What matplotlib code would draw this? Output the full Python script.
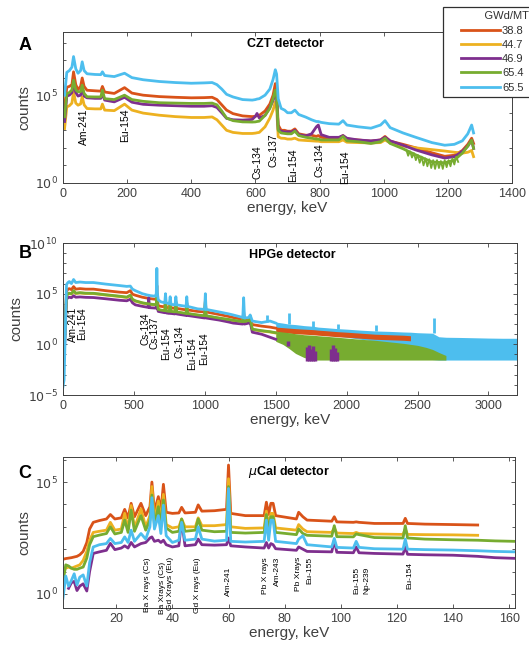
import numpy as np
import matplotlib.pyplot as plt
from matplotlib.ticker import FixedLocator, NullFormatter

plt.rcParams['font.family'] = ['Liberation Sans', 'DejaVu Sans']

burnup = ['38.8', '44.7', '46.9', '65.4', '65.5']
colors = ['#D95319', '#EDB120', '#7E2F8E', '#77AC30', '#4DBEEE']
nan = np.nan

# ---- CZT spectra (log10 counts) ----
czt_e = [5, 12, 20, 28, 33, 40, 47, 55, 60, 66, 75, 100, 118, 123, 130, 160, 192, 215, 250, 300,
         350, 400, 440, 465, 480, 495, 510, 530, 560, 590, 600, 605, 612, 630, 645, 655, 662, 666,
         671, 680, 691, 700, 712, 723, 735, 757, 775, 790, 796, 805, 830, 860, 873, 885, 920, 960,
         990, 1004, 1020, 1060, 1100, 1150, 1190, 1220, 1245, 1262, 1274, 1280]
czt_388 = [4.3, 5.45, 5.5, 5.6, 6.33, 5.6, 5.32, 5.5, 5.98, 5.5, 5.28, 5.25, 5.23, 5.5, 5.18, 5.1,
           5.43, 5.12, 5.0, 4.92, 4.88, 4.85, 4.86, 4.88, 4.75, 4.45, 4.15, 3.95, 3.82, 3.78, 3.8,
           3.85, 3.85, 4.1, 4.5, 5.0, 5.66, 5.3, 3.3, 3.0, 3.0, 2.95, 2.95, 3.08, 2.8, 2.72, 2.72,
           2.65, 2.7, 2.6, 2.55, 2.55, 2.7, 2.5, 2.45, 2.38, 2.45, 2.65, 2.38, 2.2, 2.0, 1.72, 1.52,
           1.58, 1.85, 2.2, 2.55, 2.25]
czt_447 = [3.1, 4.33, 4.4, 4.55, 5.19, 4.55, 4.43, 4.5, 4.91, 4.45, 4.24, 4.22, 4.22, 4.49, 4.15,
           4.12, 4.49, 4.15, 3.98, 3.86, 3.78, 3.73, 3.73, 3.76, 3.6, 3.3, 3.0, 2.88, 2.82, 2.82,
           2.84, 2.86, 2.88, 3.2, 3.7, 4.15, 4.62, 4.3, 2.63, 2.55, 2.54, 2.5, 2.5, 2.55, 2.45, 2.42,
           2.4, 2.38, 2.38, 2.35, 2.35, 2.35, 2.45, 2.32, 2.3, 2.28, 2.3, 2.45, 2.28, 2.1, 2.0, 1.9,
           1.82, 1.75, 1.7, 1.75, 1.85, 1.5]
czt_469 = [3.5, 4.95, 5.0, 5.15, 5.66, 5.15, 4.95, 5.0, 5.38, 4.95, 4.85, 4.82, 4.82, 5.1, 4.72,
           4.62, 4.88, 4.6, 4.48, 4.43, 4.4, 4.37, 4.37, 4.4, 4.3, 4.0, 3.68, 3.6, 3.58, 3.62, 3.8,
           3.96, 3.7, 3.85, 4.3, 4.7, 5.09, 4.9, 3.05, 2.95, 2.9, 2.92, 2.9, 3.0, 2.75, 2.68, 2.8,
           3.2, 3.3, 2.75, 2.6, 2.6, 2.7, 2.55, 2.45, 2.4, 2.45, 2.6, 2.4, 2.15, 1.88, 1.6, 1.42,
           1.5, 1.8, 2.1, 2.44, 1.97]
czt_654 = [3.77, 5.09, 5.15, 5.3, 5.85, 5.3, 5.19, 5.2, 5.57, 5.1, 4.91, 4.9, 4.9, 5.28, 4.8, 4.75,
           5.0, 4.75, 4.65, 4.57, 4.55, 4.53, 4.53, 4.55, 4.45, 4.1, 3.7, 3.55, 3.48, 3.47, 3.48,
           3.5, 3.52, 3.85, 4.25, 4.8, 5.28, 5.0, 3.0, 2.85, 2.82, 2.8, 2.8, 2.95, 2.7, 2.6, 2.55,
           2.5, 2.5, 2.45, 2.45, 2.45, 2.65, 2.4, 2.35, 2.25, 2.35, 2.55, 2.25, 1.95, 1.6, 1.2, 1.15,
           1.3, 1.7, 2.1, 2.44, 1.97]
czt_655 = [5.0, 6.3, 6.4, 6.6, 7.2, 6.5, 6.25, 6.4, 6.9, 6.4, 6.22, 6.18, 6.17, 6.33, 6.12, 6.06,
           6.25, 6.0, 5.88, 5.78, 5.72, 5.68, 5.7, 5.72, 5.6, 5.35, 5.05, 4.9, 4.75, 4.72, 4.75,
           4.78, 4.8, 5.0, 5.35, 5.9, 6.45, 6.2, 4.8, 4.25, 4.15, 4.0, 4.0, 4.15, 3.9, 3.75, 3.6,
           3.5, 3.5, 3.45, 3.38, 3.35, 3.55, 3.3, 3.2, 3.12, 3.3, 3.55, 3.15, 2.85, 2.6, 2.3, 2.15,
           2.2, 2.4, 2.8, 3.3, 2.85]
# jagged (noisy) stretch of the 65.4 spectrum
czt_noise_e = [1070, 1076, 1082, 1088, 1094, 1100, 1106, 1112, 1118, 1124, 1130, 1136, 1142, 1148,
               1154, 1160, 1166, 1172, 1178, 1184, 1190, 1196, 1202, 1208, 1214, 1220, 1226, 1232]
czt_654_noise = [1.9, 1.55, 1.8, 1.45, 1.7, 1.3, 1.6, 1.15, 1.5, 1.0, 1.4, 0.95, 1.35, 0.85, 1.3,
                 0.8, 1.3, 0.85, 1.25, 0.8, 1.3, 0.9, 1.3, 0.95, 1.4, 1.05, 1.5, 1.2]

czt_labels = ['Am-241', 'Eu-154', 'Cs-134', 'Cs-137', 'Eu-154', 'Cs-134', 'Eu-154']
czt_label_e = [65, 193, 605, 655, 717, 801, 879]
czt_label_top = [4.26, 4.26, 2.16, 2.84, 1.99, 2.27, 1.875]

# ---- HPGe spectra (log10 counts) ----
hpge_e = [0, 8, 15, 25, 35, 45, 60, 75, 90, 120, 160, 215, 300, 400, 450, 475, 490, 510, 560, 600,
          605, 610, 650, 658, 662, 666, 672, 690, 718, 723, 728, 750, 756, 762, 790, 796, 802, 868,
          873, 878, 950, 999, 1004, 1009, 1100, 1170, 1200, 1268, 1274, 1280, 1310, 1320, 1335,
          1400, 1460, 1500]
hpge_388 = [-1.0, -0.5, 2.0, 5.2, 5.45, 5.5, 5.4, 5.7, 5.45, 5.5, 5.45, 5.45, 5.3, 5.15, 5.1, 5.3,
            4.95, 4.85, 4.65, 4.55, 4.55, 4.52, 4.45, 4.45, 5.8, 4.4, 3.8, 3.75, 3.7, 4.3, 3.65,
            3.6, 4.2, 3.6, 3.55, 4.2, 3.55, 3.4, 4.1, 3.4, 3.25, 3.2, 4.3, 3.2, 2.95, 2.75, 2.65,
            2.45, 3.2, 2.45, 2.55, 2.6, 1.95, 1.8, 1.7, 1.6]
hpge_447 = [-1.6, -1.1, 1.4, 4.75, 4.97, 5.02, 4.97, 5.25, 5.02, 5.07, 5.02, 5.01, 4.87, 4.72, 4.63,
            4.82, 4.42, 4.27, 4.07, 3.97, 3.97, 3.95, 3.89, 3.89, 4.9, 3.87, 3.42, 3.35, 3.29, 4.1,
            3.27, 3.22, 3.9, 3.22, 3.17, 3.9, 3.17, 3.02, 3.8, 3.02, 2.87, 2.79, 4.1, 2.79, 2.57,
            2.42, 2.35, 2.22, 2.85, 2.22, 2.32, 2.47, 1.47, 1.32, 1.22, 1.12]
hpge_469 = [-2.0, -1.5, 1.0, 4.45, 4.6, 4.65, 4.6, 4.8, 4.65, 4.68, 4.64, 4.62, 4.5, 4.35, 4.3, 4.45,
            4.1, 3.9, 3.75, 3.65, 4.6, 3.62, 3.58, 3.58, 4.5, 3.55, 3.25, 3.2, 3.12, 3.6, 3.1, 3.05,
            3.4, 3.05, 3.0, 3.6, 3.0, 2.85, 3.4, 2.85, 2.7, 2.6, 3.5, 2.6, 2.4, 2.2, 2.1, 2.0, 2.5,
            2.0, 2.1, 2.2, 1.2, 1.0, 0.7, 0.5]
hpge_654 = [-1.5, -1.0, 1.5, 4.8, 5.0, 5.05, 5.0, 5.3, 5.05, 5.1, 5.05, 5.04, 4.9, 4.75, 4.66, 4.85,
            4.45, 4.3, 4.1, 4.0, 4.0, 3.98, 3.92, 3.92, 5.0, 3.9, 3.45, 3.38, 3.32, 4.2, 3.3, 3.25,
            4.0, 3.25, 3.2, 4.0, 3.2, 3.05, 3.9, 3.05, 2.9, 2.82, 4.2, 2.82, 2.6, 2.45, 2.38, 2.25,
            2.9, 2.25, 2.35, 2.5, 1.5, 1.35, 1.25, 1.15]
hpge_655 = [-4.2, -3.5, 0.5, 5.9, 6.1, 6.2, 6.0, 6.4, 6.1, 6.15, 6.1, 6.1, 5.95, 5.8, 5.72, 5.75,
            5.45, 5.3, 5.0, 4.85, 4.85, 4.82, 4.75, 5.0, 7.5, 5.0, 4.4, 4.2, 4.1, 5.0, 4.1, 4.0, 4.7,
            3.95, 3.9, 4.7, 3.9, 3.75, 4.7, 3.75, 3.5, 3.45, 5.0, 3.45, 3.2, 3.0, 2.9, 2.65, 4.6,
            2.6, 2.65, 2.9, 2.3, 2.15, 2.3, 2.1]
# noisy high-energy tail: envelope of each spectrum
hpge_tail_e = [1500, 1550, 1593, 1640, 1700, 1767, 1800, 1850, 1937, 2000, 2100, 2202, 2300, 2400,
               2450, 2500, 2560, 2605, 2650, 2700, 2800, 2900, 3000, 3100, 3200]
tail_388_hi = [1.7, 1.65, 1.6, 1.55, 1.5, 1.45, 1.4, 1.35, 1.25, 1.2, 1.1, 1.0, 0.95, 0.9, 0.85,
               nan, nan, nan, nan, nan, nan, nan, nan, nan, nan]
tail_388_lo = [1.2, 1.15, 1.1, 1.05, 1.0, 0.95, 0.9, 0.85, 0.75, 0.7, 0.6, 0.5, 0.45, 0.4, 0.35,
               nan, nan, nan, nan, nan, nan, nan, nan, nan, nan]
tail_654_hi = [1.3, 1.22, 1.15, 1.05, 0.95, 0.9, 0.85, 0.8, 0.7, 0.62, 0.5, 0.4, 0.25, 0.1, 0.0,
               -0.1, -0.3, -0.5, -0.8, -1.1, nan, nan, nan, nan, nan]
tail_654_lo = [0.3, 0.0, -0.4, -0.9, -1.3, -1.55, -1.55, -1.55, -1.55, -1.55, -1.55, -1.55, -1.55,
               -1.55, -1.55, -1.55, -1.55, -1.55, -1.55, -1.55, nan, nan, nan, nan, nan]
tail_655_hi = [2.2, 2.1, 2.0, 1.95, 1.85, 1.78, 1.7, 1.65, 1.55, 1.5, 1.4, 1.32, 1.28, 1.22, 1.2,
               1.15, 1.12, 1.1, 0.75, 0.7, 0.68, 0.65, 0.62, 0.6, 0.6]
tail_655_lo = [1.6, 1.5, 1.4, 1.3, 1.2, 1.1, 1.0, 0.9, 0.8, 0.7, 0.5, 0.3, 0.1, -0.2, -0.4, -0.8,
               -1.2, -1.5, -1.55, -1.55, -1.55, -1.55, -1.55, -1.55, -1.55]
spike_655_e = [1440, 1596, 1765, 1937, 2204, 2614]
spike_655_lo = [2.2, 2.0, 1.75, 1.55, 1.3, 1.1]
spike_655_hi = [2.9, 3.1, 2.3, 1.96, 1.9, 2.6]
spike_469_e = [1590, 1722, 1736, 1750, 1764, 1778, 1890, 1905, 1920, 1935]
spike_469_lo = [-0.2, -1.62, -1.62, -1.62, -1.62, -1.62, -1.62, -1.62, -1.62, -1.62]
spike_469_hi = [0.3, -0.3, -0.1, -0.5, -0.2, -0.7, -0.5, -0.1, -0.4, -0.8]

hpge_labels = ['Am-241', 'Eu-154', 'Cs-134', 'Cs-137', 'Eu-154', 'Cs-134', 'Eu-154', 'Eu-154']
hpge_label_e = [71, 134, 583, 646, 727, 819, 911, 996]
hpge_label_top = [3.68, 3.68, 3.1, 2.7, 1.7, 1.9, 0.72, 1.2]

# ---- uCal spectra (log10 counts) ----
ucal_e = [1, 2, 3, 4, 5, 6, 7, 8.2, 9.5, 10.5, 11.8, 14, 16.5, 17.9, 19.5, 21.8, 23, 24.2, 25.3,
          26.5, 28.8, 30.5, 32.0, 32.7, 33.6, 35.0, 35.9, 36.8, 37.8, 40, 42.3, 43.3, 44.5, 48.2,
          49.2, 50.5, 55, 59.3, 60.0, 60.8, 66, 72.7, 73.5, 74.3, 75.1, 75.9, 76.8, 84.2, 85, 86.5,
          88, 96.8, 97.7, 98.6, 104.5, 105.5, 106.5, 112, 122.2, 123, 123.8, 130, 140, 148.8, 155,
          162]
ucal_388 = [1.55, 1.58, 1.6, 1.62, 1.65, 1.68, 1.75, 1.9, 2.3, 2.9, 3.2, 3.28, 3.35, 3.55, 3.35,
            3.4, 3.78, 3.4, 4.05, 3.45, 4.05, 3.5, 3.9, 5.0, 3.7, 4.35, 3.7, 4.9, 3.65, 3.6, 3.62,
            3.87, 3.62, 3.65, 3.98, 3.7, 3.72, 3.78, 5.76, 3.6, 3.5, 3.5, 4.1, 3.55, 4.05, 4.05,
            3.5, 3.35, 3.65, 3.45, 3.3, 3.25, 3.45, 3.22, 3.2, 3.22, 3.2, 3.15, 3.15, 3.38, 3.15,
            3.12, 3.1, 3.08, nan, nan]
ucal_447 = [1.1, 1.15, 1.2, 1.15, 1.2, 1.25, 1.3, 1.5, 1.9, 2.4, 2.75, 2.8, 2.85, 3.2, 2.85, 2.9,
            3.6, 2.9, 3.95, 2.95, 3.8, 3.0, 3.5, 4.8, 3.3, 4.15, 3.2, 4.45, 3.1, 2.95, 3.0, 3.35,
            3.0, 3.0, 3.4, 3.05, 3.05, 3.1, 5.15, 3.0, 2.93, 2.95, 3.7, 3.0, 3.6, 3.6, 2.95, 2.85,
            3.1, 2.9, 2.78, 2.75, 2.95, 2.72, 2.7, 2.75, 2.7, 2.68, 2.66, 2.9, 2.66, 2.65, 2.64,
            2.62, nan, nan]
ucal_469 = [nan, nan, 0.25, 0.5, 0.56, 0.15, 0.35, 0.45, 0.13, 1.0, 1.81, 1.88, 1.95, 2.26, 1.98,
            2.05, 2.15, 2.05, 2.3, 2.1, 2.25, 2.3, 2.5, 2.55, 2.35, 2.4, 2.3, 2.4, 2.2, 2.1, 2.15,
            3.3, 2.15, 2.2, 2.45, 2.2, 2.18, 2.2, 2.5, 2.15, 2.1, 2.05, 2.3, 2.05, 2.25, 2.2, 2.02,
            1.95, 2.1, 2.0, 1.9, 1.88, 2.4, 1.86, 1.84, 2.1, 1.84, 1.81, 1.78, 2.1, 1.77, 1.75,
            1.73, 1.68, 1.62, 1.59]
ucal_654 = [0.5, 1.3, 1.25, 1.15, 1.1, 1.1, 1.15, 1.2, 1.6, 2.2, 2.56, 2.63, 2.7, 3.0, 2.68, 2.75,
            3.3, 2.75, 3.75, 2.8, 3.5, 2.85, 3.3, 4.42, 3.1, 3.9, 3.0, 4.2, 2.95, 2.75, 2.8, 3.35,
            2.8, 2.85, 3.35, 2.85, 2.78, 2.8, 4.8, 2.75, 2.72, 2.75, 3.55, 2.8, 3.45, 3.45, 2.75,
            2.65, 2.9, 2.7, 2.62, 2.58, 3.05, 2.56, 2.55, 2.68, 2.65, 2.52, 2.5, 3.05, 2.5, 2.45,
            2.42, 2.4, 2.37, 2.35]
ucal_655 = [-0.2, 0.8, 0.35, 0.6, 0.9, 0.4, 0.75, 0.85, 0.35, 1.4, 2.1, 2.2, 2.25, 2.48, 2.25, 2.3,
            2.55, 2.3, 2.85, 2.35, 2.7, 2.45, 3.0, 4.3, 2.9, 3.5, 2.7, 3.97, 2.6, 2.3, 2.4, 3.2,
            2.4, 2.45, 3.0, 2.45, 2.36, 2.4, 4.71, 2.35, 2.32, 2.35, 3.3, 2.4, 3.3, 3.3, 2.35, 2.25,
            2.45, 2.6, 2.2, 2.1, 2.48, 2.08, 2.05, 2.35, 2.08, 2.02, 2.0, 2.45, 2.0, 1.98, 1.96,
            1.93, 1.9, 1.88]

ucal_labels = ['Ba X rays (Cs)', 'Ba Xrays (Cs)', 'Gd Xrays (Eu)', 'Gd X rays (Eu)', 'Am-241',
               'Pb X rays', 'Am-243', 'Pb Xrays', 'Eu-155', 'Eu-155', 'Np-239', 'Eu-154']
ucal_label_e = [31.2, 36.3, 39.4, 48.8, 60, 73.2, 77.6, 85.1, 89, 105.6, 109.2, 124.6]
ucal_label_top = [1.65, 1.43, 1.65, 1.65, 1.2, 1.65, 1.65, 1.65, 1.65, 1.2, 1.2, 1.43]

czt_series = [czt_388, czt_447, czt_469, czt_654, czt_655]
hpge_series = [hpge_388, hpge_447, hpge_469, hpge_654, hpge_655]
ucal_series = [ucal_388, ucal_447, ucal_469, ucal_654, ucal_655]

fig = plt.figure(figsize=(5.29, 6.5), dpi=100)
axA = fig.add_axes([0.119, 0.7185, 0.849, 0.2323])
axB = fig.add_axes([0.119, 0.3923, 0.858, 0.2338])
axC = fig.add_axes([0.119, 0.0646, 0.854, 0.2323])

gray = '#404040'


def style(ax, xlim, ylim_exp, major_exp, xticks):
    ax.set_yscale('log')
    ax.set_xlim(*xlim)
    ax.set_ylim(10.0 ** ylim_exp[0], 10.0 ** ylim_exp[1])
    ax.set_xticks(xticks)
    ax.yaxis.set_major_locator(FixedLocator([10.0 ** k for k in major_exp]))
    ax.set_yticklabels(['$10^{%d}$' % k for k in major_exp])
    minors = [10.0 ** k for k in range(int(np.floor(ylim_exp[0])), int(np.ceil(ylim_exp[1])) + 1)
              if k not in major_exp]
    ax.yaxis.set_minor_locator(FixedLocator(minors))
    ax.yaxis.set_minor_formatter(NullFormatter())
    ax.tick_params(which='both', direction='in', top=True, right=True, colors=gray,
                   labelsize=9, length=3, width=0.6)
    ax.tick_params(which='minor', length=2)
    for s in ax.spines.values():
        s.set_color(gray)
        s.set_linewidth(0.7)
    ax.set_xlabel('energy, keV', fontsize=11, color=gray, labelpad=1)
    ax.set_ylabel('counts', fontsize=11, color=gray, labelpad=3)


# panel A
for vals, c, lab in zip(czt_series, colors, burnup):
    axA.plot(czt_e, 10 ** np.array(vals), color=c, lw=2, label=lab)
axA.plot(czt_noise_e, 10 ** np.array(czt_654_noise), color=colors[3], lw=1.3)
style(axA, (0, 1400), (0, 8.6), [0, 5], range(0, 1401, 200))
for t, e, y in zip(czt_labels, czt_label_e, czt_label_top):
    axA.text(e, 10 ** y, t, rotation=90, ha='center', va='top', fontsize=7.5)
axA.text(0.495, 0.92, 'CZT detector', transform=axA.transAxes, ha='center', va='center',
         fontsize=9, fontweight='bold')

# panel B
for vals, c in zip(hpge_series, colors):
    axB.plot(hpge_e, 10 ** np.array(vals), color=c, lw=2)
axB.fill_between(hpge_tail_e, 10 ** np.array(tail_655_lo), 10 ** np.array(tail_655_hi),
                 color=colors[4], lw=0)
axB.vlines(spike_655_e, 10 ** np.array(spike_655_lo), 10 ** np.array(spike_655_hi),
           color=colors[4], lw=2)
axB.fill_between(hpge_tail_e, 10 ** np.array(tail_388_lo), 10 ** np.array(tail_388_hi),
                 color=colors[0], lw=0)
axB.fill_between(hpge_tail_e, 10 ** np.array(tail_654_lo), 10 ** np.array(tail_654_hi),
                 color=colors[3], lw=0)
axB.vlines(spike_469_e, 10 ** np.array(spike_469_lo), 10 ** np.array(spike_469_hi),
           color=colors[2], lw=2.5)
style(axB, (0, 3200), (-5, 10), [-5, 0, 5, 10], range(0, 3001, 500))
for t, e, y in zip(hpge_labels, hpge_label_e, hpge_label_top):
    axB.text(e, 10 ** y, t, rotation=90, ha='center', va='top', fontsize=7.2)
axB.text(0.505, 0.92, 'HPGe detector', transform=axB.transAxes, ha='center', va='center',
         fontsize=9, fontweight='bold')

# panel C
for vals, c in zip(ucal_series, colors):
    axC.plot(ucal_e, 10 ** np.array(vals), color=c, lw=2)
style(axC, (1, 162), (-0.63, 6.12), [0, 5], range(20, 161, 20))
for t, e, y in zip(ucal_labels, ucal_label_e, ucal_label_top):
    axC.text(e, 10 ** y, t, rotation=90, ha='center', va='top', fontsize=6)
axC.text(0.5, 0.9, r'$\mu$Cal detector', transform=axC.transAxes, ha='center', va='center',
         fontsize=9, fontweight='bold')

fig.text(25 / 529, 1 - 45 / 650, 'A', fontsize=13, fontweight='bold', ha='center', va='center')
fig.text(25 / 529, 1 - 253 / 650, 'B', fontsize=13, fontweight='bold', ha='center', va='center')
fig.text(25 / 529, 1 - 473 / 650, 'C', fontsize=13, fontweight='bold', ha='center', va='center')

leg = fig.legend(loc='upper left', bbox_to_anchor=(443 / 529, 1 - 7 / 650), borderaxespad=0,
                 title='            GWd/MTU', fontsize=8, title_fontsize=8, handlelength=3.5,
                 handletextpad=0.2, labelspacing=0.38, borderpad=0.4, fancybox=False,
                 framealpha=1, edgecolor='#303030')
leg.get_frame().set_linewidth(0.9)
for txt in leg.get_texts():
    txt.set_color('#303030')
leg.get_title().set_color('#303030')

fig.savefig('out.png', dpi=100)
